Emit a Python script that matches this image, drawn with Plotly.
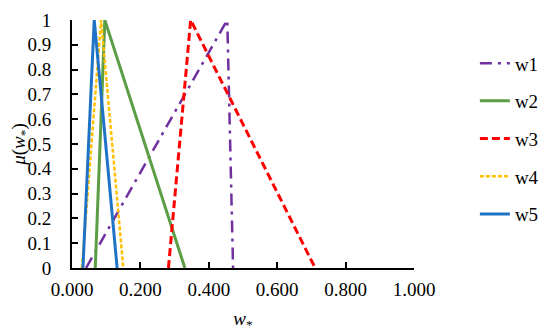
import plotly.graph_objects as go

names = ["w1", "w2", "w3", "w4", "w5"]
w1_x = [0.041, 0.454, 0.471]
w2_x = [0.068, 0.096, 0.330]
w3_x = [0.282, 0.347, 0.711]
w4_x = [0.029, 0.085, 0.150]
w5_x = [0.032, 0.065, 0.132]
mu = [0, 1, 0]
xs = [w1_x, w2_x, w3_x, w4_x, w5_x]

colors = ["#7030A0", "#5B9E45", "#FF0000", "#FFC000", "#1F73C6"]
dashes = ["12px,6px,3px,6px", "solid", "8px,4px", "4px,2px", "solid"]
widths = [2.5, 3, 3, 2.5, 3]

fig = go.Figure()
for i, n in enumerate(names):
    fig.add_trace(go.Scatter(
        x=xs[i], y=mu, mode="lines", name=n, legendgroup=n,
        line=dict(color=colors[i], dash=dashes[i], width=widths[i]),
    ))

font_family = "Liberation Serif, Times New Roman, serif"
fig.update_layout(
    width=542, height=324,
    margin=dict(l=64, r=136, t=12, b=64, autoexpand=False),
    paper_bgcolor="white", plot_bgcolor="white",
    font=dict(family=font_family, size=19, color="black"),
    showlegend=True,
    legend=dict(x=1.178, y=0.902, xanchor="left", yanchor="top",
                font=dict(size=19), tracegroupgap=10,
                bgcolor="rgba(0,0,0,0)"),
    xaxis=dict(range=[0, 1], dtick=0.2, tick0=0, tickformat=".3f",
               automargin=False,
               showgrid=False, zeroline=False, showline=True,
               linecolor="black", linewidth=2, ticks="inside", ticklen=6,
               tickcolor="black", tickwidth=2, ticklabelstandoff=3,
               title=dict(text="<i>w</i><sub>*</sub>", font=dict(size=19), standoff=14)),
    yaxis=dict(range=[0, 1], dtick=0.1, tick0=0,
               automargin=False,
               showgrid=False, zeroline=False, showline=True,
               linecolor="black", linewidth=2, ticks="inside", ticklen=6,
               tickcolor="black", tickwidth=2, ticklabelstandoff=15,
               title=dict(text="<i>μ</i>(<i>w</i><sub>*</sub>)", font=dict(size=19), standoff=0)),
)

fig.write_html("out.html")
